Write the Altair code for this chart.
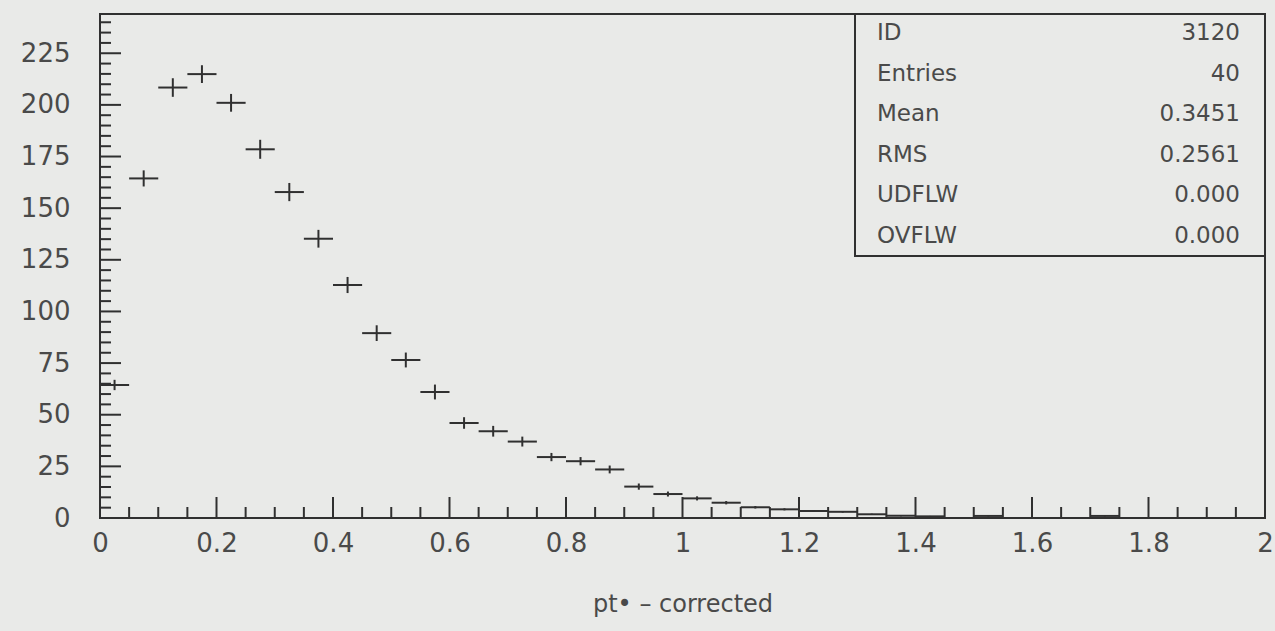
import altair as alt
import pandas as pd

# ---- data ----
bin_width = 0.05
counts = [64.4, 164.4, 208.4, 214.9, 201.0, 178.5, 157.8, 135.2, 112.8, 89.5,
          76.5, 61.0, 46.0, 42.0, 37.0, 29.5, 27.5, 23.5, 15.2, 11.6,
          9.5, 7.4, 5.2, 4.2, 3.4, 3.0, 1.8, 1.1, 0.8, 0.0,
          1.0, 0.0, 0.0, 0.0, 1.0, 0.0, 0.0, 0.0, 0.0, 0.0]
errors = [2.5, 3.9, 4.5, 4.3, 4.3, 4.6, 4.4, 4.3, 3.9, 3.8,
          3.6, 3.6, 2.8, 2.6, 2.4, 2.0, 2.0, 1.9, 1.5, 1.2,
          1.0, 0.8, 0.6, 0.5, 0.4, 0.4, 0.3, 0.3, 0.2, 0.0,
          0.3, 0.0, 0.0, 0.0, 0.3, 0.0, 0.0, 0.0, 0.0, 0.0]
x_labels = [0, 0.2, 0.4, 0.6, 0.8, 1, 1.2, 1.4, 1.6, 1.8, 2]
y_labels = [0, 25, 50, 75, 100, 125, 150, 175, 200, 225]
y_ticks = list(range(0, 245, 5))
x_ticks = [round(i * 0.05, 2) for i in range(0, 41)]
stat_names = ["ID", "Entries", "Mean", "RMS", "UDFLW", "OVFLW"]
stat_values = ["3120", "40", "0.3451", "0.2561", "0.000", "0.000"]
x_title = "pt\u2022  \u2013 corrected"

# ---- style ----
BG = "#e9eae8"
INK = "#303030"
TXT = "#4a4a4a"
FONT = "DejaVu Sans"
W, H = 1165, 504

rows = []
for i, (n, e) in enumerate(zip(counts, errors)):
    if n <= 0:
        continue
    lo = i * bin_width
    rows.append({"lo": lo, "hi": lo + bin_width, "c": lo + bin_width / 2,
                 "n": n, "ylo": n - e, "yhi": n + e})
df = pd.DataFrame(rows)

xs = alt.Scale(domain=[0, 2], nice=False, zero=False)
ys = alt.Scale(domain=[0, 244], nice=False, zero=False)

xaxis = alt.Axis(values=x_labels, format="~g", title=x_title, ticks=False,
                 domain=False, grid=False, labelFontSize=26, labelFont=FONT,
                 labelColor=TXT, labelPadding=12, labelFlush=False,
                 labelOverlap=False, titleFont=FONT, titleFontSize=24,
                 titleFontWeight="normal", titleColor=TXT, titlePadding=36)
yaxis = alt.Axis(values=y_labels, title=None, ticks=False, domain=False,
                 grid=False, labelFontSize=26, labelFont=FONT, labelColor=TXT,
                 labelPadding=30, labelOverlap=False)

X = lambda f: alt.X(f, scale=xs, axis=xaxis)
Y = lambda f: alt.Y(f, scale=ys, axis=yaxis)

hbar = alt.Chart(df).mark_rule(color=INK, strokeWidth=2).encode(
    x=X("lo:Q"), x2="hi:Q", y=Y("n:Q"))
vbar = alt.Chart(df).mark_rule(color=INK, strokeWidth=2).encode(
    x=X("c:Q"), y=Y("ylo:Q"), y2="yhi:Q")

yt = pd.DataFrame({"v": y_ticks})
ytick_minor = alt.Chart(yt).transform_filter("datum.v % 25 != 0").mark_rule(
    color=INK, strokeWidth=2).encode(y=Y("v:Q"), x=alt.value(0), x2=alt.value(11))
ytick_major = alt.Chart(yt).transform_filter("datum.v % 25 == 0").mark_rule(
    color=INK, strokeWidth=2).encode(y=Y("v:Q"), x=alt.value(0), x2=alt.value(21))

xt = pd.DataFrame({"v": x_ticks, "i": list(range(len(x_ticks)))})
xtick_minor = alt.Chart(xt).transform_filter("datum.i % 4 != 0").mark_rule(
    color=INK, strokeWidth=2).encode(x=X("v:Q"), y=alt.value(H), y2=alt.value(H - 11))
xtick_major = alt.Chart(xt).transform_filter("datum.i % 4 == 0").mark_rule(
    color=INK, strokeWidth=2).encode(x=X("v:Q"), y=alt.value(H), y2=alt.value(H - 21))

box = alt.Chart(pd.DataFrame({"k": [0]})).mark_rect(
    fill=BG, stroke=INK, strokeWidth=2).encode(
    x=alt.value(755), x2=alt.value(W), y=alt.value(0), y2=alt.value(242))

stat_df = pd.DataFrame({"k": [0]})
names_txt = alt.Chart(stat_df).mark_text(
    align="left", baseline="alphabetic", font=FONT, fontSize=23,
    lineHeight=40.6, color=TXT).encode(
    x=alt.value(777), y=alt.value(26), text=alt.value(stat_names))
vals_txt = alt.Chart(stat_df).mark_text(
    align="right", baseline="alphabetic", font=FONT, fontSize=23,
    lineHeight=40.6, color=TXT).encode(
    x=alt.value(1140), y=alt.value(26), text=alt.value(stat_values))

chart = alt.layer(
    ytick_minor, ytick_major, xtick_minor, xtick_major, hbar, vbar,
    box, names_txt, vals_txt
).properties(
    width=W, height=H,
    autosize=alt.AutoSizeParams(type="none"),
    padding={"left": 100, "top": 14, "right": 10, "bottom": 113},
    background=BG,
).configure_view(stroke=INK, strokeWidth=2)

chart.save("out.html", embed_options={"renderer": "svg", "actions": False})
